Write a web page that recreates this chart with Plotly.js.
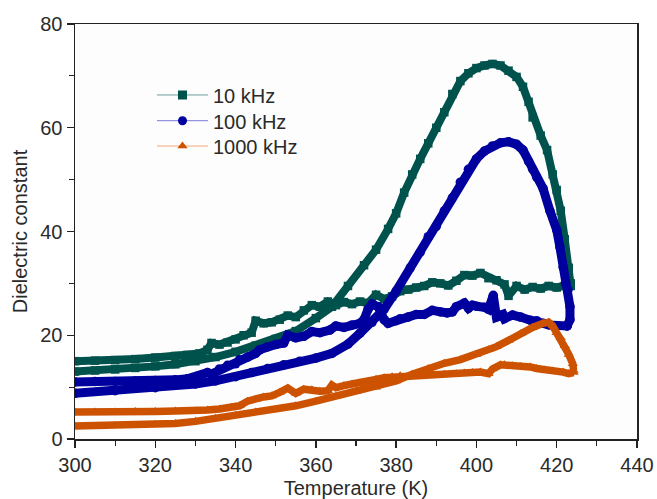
<!DOCTYPE html>
<html>
<head>
<meta charset="utf-8">
<script src="https://cdn.plot.ly/plotly-3.0.1.min.js"></script>
<style>html,body{margin:0;padding:0;background:#fff;}#chart{width:657px;height:499px;}</style>
</head>
<body>
<div id="chart"></div>
<script>
// ---- data ----
const seriesNames = ["10 kHz", "100 kHz", "1000 kHz"];

// 10 kHz, heating branch (smooth, with peak)
const t10Heat = [300,305,310,315,320,325,330,335,340,345,350,355,360,364,368,372,375,378,380,382,384,386,388,390,392,394,396,398,400,402,404,406,408,410,411.6,413,414,416,417.6,419,420,421,422,423,423.5];
const e10Heat = [13,13.2,13.4,13.7,14,14.4,15,15.8,16.8,18,19.3,20.8,23.3,25.5,29.5,33.5,36.5,40.5,43.5,47.5,51,54,57,60,63,66.5,69,70.5,71.5,72,72.3,72,71,69.8,67.9,65,62,58.5,55.7,51,48,44,38.5,33,29.5];
// 10 kHz, cooling branch (noisy)
const t10Cool = [423.5,422,420,418,416,414,412,410,408,407,405,403,401,399,397,395,393,391,389,387,385,383,381,379,377,375,373,371,369,367,365,363,361,359,357,355,353,351,349,347,345,344,342,340,338,336,334,333,331,328,325,320,315,310,305,300];
const e10Cool = [30,29.5,29.2,29.5,29,29.3,28.8,29.5,27.6,29.8,30.6,31,32,31.5,31.6,30.5,29.6,30,30.2,29.5,29.2,28.8,28.5,27.5,27,27.8,26.2,26.5,26,26.4,25.8,26.5,25.5,25.8,24.8,23.5,23.8,23,22.5,22.3,22.8,20.5,20,19.2,18.6,18.2,18.5,17.2,16.5,16.2,16,15.7,15.4,15.2,15.1,15];

// 100 kHz, heating branch
const t100Heat = [300,310,320,330,335,340,344,348,352,356,360,364,368,371,374,377,380,383.5,386,388,390,392,394,396,398,400,402,404,406,408,410,411.6,413,414,415,416.6,418.3,420,420.8,421.6,422.2,422.8,423.3,423.3,422.6];
const e100Heat = [8.8,9.3,9.9,10.6,11.2,12,12.8,13.6,14.3,15,15.6,16.5,18.3,20.4,22.5,25,28.5,33,36,39,41,44,46.5,49.5,52,54,55.5,56.5,57.1,57.3,56.8,55.7,53.5,52,50.5,48.3,44,40.3,37,33.1,30,28.7,25.5,23,21.8];
// 100 kHz, cooling branch
const t100Cool = [422.6,420,418,416.6,415,413.4,411,409,407,406.6,405,404.2,403,402,400,399,398,397,395,394,392.7,391,389,387,385,383,381,380,378,377,375.5,374,373,372,371,369,367,365,363.5,361,359,357,355,353,352,350,348,346,345,343,341,340,338,336,334,333,331,328,325,320,315,310,305,300];
const e100Cool = [21.8,21.8,22,22.3,22.8,22.9,23.5,23.9,23.2,24,23.5,27.7,25,25.4,25.6,25.8,25.2,26.2,25.5,24.5,24.3,24.5,24.8,24,24,23.5,23.2,22.8,22.3,23,25.5,26,25,23,22.3,22,21.5,21.8,21,20.5,20.7,19.8,19.5,20,18.5,18.2,17.8,17.2,16.5,15.8,15.3,14.5,14.2,13.5,12.5,12.8,12.2,11.6,11.4,11.3,11.2,11.1,11.1,11];

// 1000 kHz, heating branch
const t1000Heat = [300,310,320,325,330,335,340,345,350,355,360,365,370,375,380,384,388,392,396,400,403,405,408,411,414,416.6,418,419,420,421,422,423,424,424.2];
const e1000Heat = [2.5,2.6,2.8,3,3.4,4,4.6,5.2,5.7,6.4,7.3,8.2,9.1,10,11.2,12.5,13.6,14.6,15.3,16.3,17.2,17.8,19,20.3,21.5,22.3,22.5,21.8,20.5,19.5,18,16.3,14.5,13.2];
// 1000 kHz, cooling branch
const t1000Cool = [424.2,423,421.6,419,417,415,413.4,411,409,407,406,404,403,401,399,397,395,392,389,386,384,381,379,377,375,373,371,369,367,365,364,363,361,359,357,355,353,351,349,347,345,343,341,339,336,333,330,325,320,315,310,305,300];
const e1000Cool = [12.8,12.6,12.9,13.1,13.3,13.6,13.9,14,14.1,14.3,14.3,13.5,12.6,12.9,12.8,12.7,12.6,12.5,12.4,12.4,12.3,12.2,12,11.8,11.5,11.1,10.8,10.6,10.3,9.9,10.4,9.3,9.2,9.5,9.6,8.8,9.8,9.0,8.3,8.1,7.6,7.3,6.4,6.1,5.8,5.6,5.4,5.4,5.3,5.3,5.2,5.2,5.2];

// ---- styling ----
const markColors = ["#00524c", "#00009f", "#cc5200"];
const legendLineColors = ["#6e9c9a", "#7a7ad6", "#f0a878"];
const symbols = ["square", "circle", "triangle-up"];
const msize = [8.5, 9.5, 9];
const bandW = [8, 9, 7.5];
const legendY = [0.829, 0.767, 0.706];

const branches = [
  [t10Heat, e10Heat, 0], [t10Cool, e10Cool, 0],
  [t100Heat, e100Heat, 1], [t100Cool, e100Cool, 1],
  [t1000Heat, e1000Heat, 2], [t1000Cool, e1000Cool, 2]
];

const traces = [];
branches.forEach(([xs, ys, k]) => {
  traces.push({
    x: xs, y: ys, type: "scatter", mode: "lines+markers",
    showlegend: false, hoverinfo: "skip",
    line: {color: markColors[k], width: bandW[k], shape: "linear"},
    marker: {color: markColors[k], symbol: symbols[k], size: msize[k]}
  });
});
// legend entries (one legend box per entry so rows can be spaced as in the original)
const legendIds = ["legend", "legend2", "legend3"];
seriesNames.forEach((name, k) => {
  traces.push({
    x: [null], y: [null], type: "scatter", mode: "lines+markers", name: name,
    legend: legendIds[k],
    line: {color: legendLineColors[k], width: 1},
    marker: {color: markColors[k], symbol: symbols[k], size: 9}
  });
});

const fontFam = "Liberation Sans, Arial, sans-serif";
const txtColor = "#2a2a2a";
function legendBox(k) {
  return {
    x: 0.137, y: legendY[k], xanchor: "left", yanchor: "middle",
    bgcolor: "rgba(0,0,0,0)", borderwidth: 0,
    font: {family: fontFam, size: 20, color: txtColor},
    itemwidth: 51
  };
}
const layout = {
  width: 657, height: 499,
  margin: {l: 75, r: 20, t: 24, b: 60.3},
  paper_bgcolor: "#ffffff",
  plot_bgcolor: "#fdfdfd",
  font: {family: fontFam, size: 20, color: txtColor},
  showlegend: true,
  legend: legendBox(0),
  legend2: legendBox(1),
  legend3: legendBox(2),
  xaxis: {
    range: [300, 440], dtick: 20, tick0: 300,
    ticks: "outside", ticklen: 7, tickwidth: 1.3, tickcolor: "#222",
    minor: {dtick: 10, ticks: "outside", ticklen: 5, tickwidth: 1.2, tickcolor: "#222", showgrid: false},
    showgrid: false, zeroline: false,
    showline: true, linecolor: "#222", linewidth: 1.5, mirror: true,
    tickfont: {family: fontFam, size: 20, color: txtColor},
    title: {text: "Temperature (K)", font: {family: fontFam, size: 20, color: txtColor}, standoff: 10}
  },
  yaxis: {
    range: [0, 80], dtick: 20, tick0: 0,
    ticks: "outside", ticklen: 7, tickwidth: 1.3, tickcolor: "#222",
    minor: {dtick: 10, ticks: "outside", ticklen: 5, tickwidth: 1.2, tickcolor: "#222", showgrid: false},
    showgrid: false, zeroline: false,
    showline: true, linecolor: "#222", linewidth: 1.5, mirror: true,
    tickfont: {family: fontFam, size: 20, color: txtColor},
    title: {text: "Dielectric constant", font: {family: fontFam, size: 20, color: txtColor}, standoff: 7}
  }
};

Plotly.newPlot("chart", traces, layout, {displayModeBar: false, staticPlot: true});
</script>
</body>
</html>
